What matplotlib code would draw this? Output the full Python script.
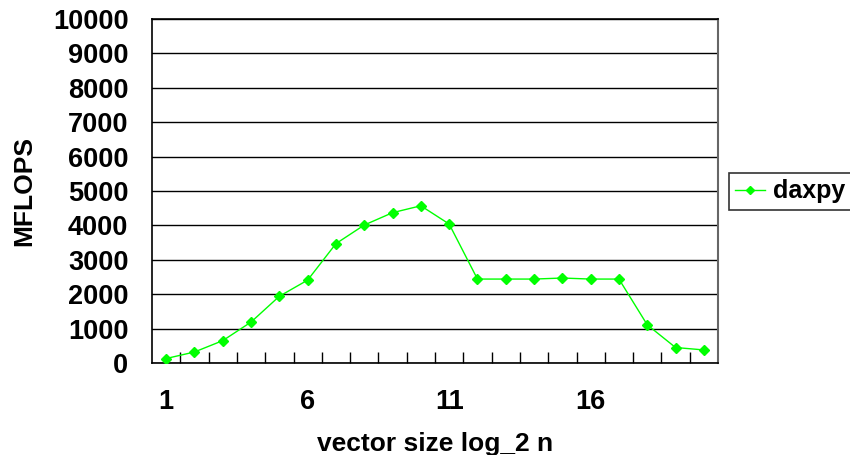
import numpy as np
import matplotlib.pyplot as plt
from matplotlib.ticker import FixedLocator

# data
log2n = list(range(1, 21))
mflops = [130, 320, 650, 1190, 1940, 2410, 3470, 4010, 4370, 4570,
          4040, 2440, 2440, 2440, 2470, 2440, 2440, 1110, 450, 380]
xtick_labels = ['1', '6', '11', '16']
xtick_pos = [1, 6, 11, 16]
yticks = list(range(0, 10001, 1000))

plt.rcParams['font.family'] = ['Liberation Sans', 'DejaVu Sans']
plt.rcParams['font.weight'] = 'bold'

fig = plt.figure(figsize=(8.5, 4.55), dpi=100)
ax = fig.add_axes([152/850, 92/455, 566/850, 344/455])

green = '#00ff00'
ax.plot(log2n, mflops, color=green, lw=1, marker='D', ms=5.5,
        label='daxpy', zorder=3)

ax.set_xlim(0.5, 20.5)
ax.set_ylim(0, 10000)
ax.set_yticks(yticks)
ax.set_yticklabels([str(v) for v in yticks], fontsize=19.5, fontweight='bold')
ax.tick_params(axis='y', length=0, pad=17)
ax.yaxis.grid(True, color='black', lw=1)
ax.set_axisbelow(True)

ax.set_xticks(xtick_pos)
ax.set_xticklabels(xtick_labels, fontsize=19.5, fontweight='bold')
ax.tick_params(axis='x', which='major', length=0, pad=19)
ax.xaxis.set_minor_locator(FixedLocator(np.arange(1.5, 20.5, 1)))
ax.tick_params(axis='x', which='minor', direction='in', length=8, width=1,
               color='black')

for s in ['left', 'bottom', 'top']:
    ax.spines[s].set_color('black')
    ax.spines[s].set_linewidth(1.2)
ax.spines['right'].set_color('#666666')
ax.spines['right'].set_linewidth(1.5)

ax.set_xlabel('vector size log_2 n', fontsize=19, fontweight='bold', labelpad=12)
ax.set_ylabel('MFLOPS', fontsize=19, fontweight='bold', labelpad=12)

leg = ax.legend(loc='upper left', bbox_to_anchor=(729/850, 1 - 173/455),
                bbox_transform=fig.transFigure, frameon=True, fancybox=False,
                edgecolor='black', borderaxespad=0, handlelength=1.2,
                handletextpad=0.3, borderpad=0.25,
                prop={'size': 18, 'weight': 'bold'})
leg.get_frame().set_linewidth(1.2)
leg.get_lines()[0].set_markersize(4.5)

fig.savefig('out.png', dpi=100)
